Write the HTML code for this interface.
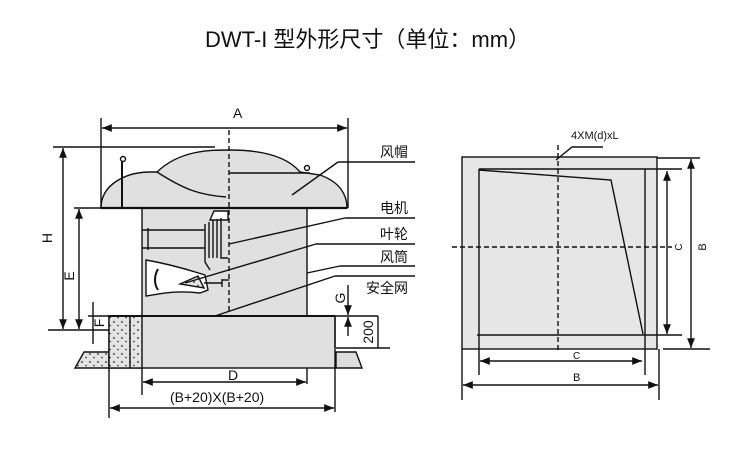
<!DOCTYPE html>
<html><head><meta charset="utf-8"><style>
html,body{margin:0;padding:0;background:#fff;width:750px;height:456px;overflow:hidden}
svg{display:block}
text{font-family:"Liberation Sans","Noto Sans CJK SC",sans-serif;fill:#111}
</style></head><body>
<svg width="750" height="456" viewBox="0 0 750 456" xmlns="http://www.w3.org/2000/svg">
<defs>
<marker id="ar" viewBox="0 0 10 10" refX="10" refY="5" markerWidth="7" markerHeight="7" orient="auto-start-reverse"><path d="M0,1 L10,5 L0,9 z" fill="#111"/></marker>
<pattern id="dots" width="8" height="8" patternUnits="userSpaceOnUse"><rect width="8" height="8" fill="#e4e4e4"/><circle cx="2" cy="2" r="0.9" fill="#222"/><circle cx="6" cy="5.5" r="0.8" fill="#222"/></pattern>
</defs>
<text x="205" y="47" font-size="22" font-family="Noto Sans CJK SC, sans-serif">DWT-I 型外形尺寸（单位：mm）</text>

<g stroke="#111" stroke-width="1.4" fill="none">
<path d="M84,352 L109,352 L109,368 L75,368 Z" fill="url(#dots)"/>
<path d="M336,352 L356,352 L362,368 L336,368 Z" fill="#ddd"/>
<rect x="109" y="316" width="226" height="52" fill="#e0e0e0"/>
<rect x="109" y="316" width="33" height="52" fill="url(#dots)"/>
<line x1="130" y1="316" x2="130" y2="368"/>
<rect x="142" y="208" width="165" height="108" fill="#e0e0e0"/>
<line x1="109" y1="316" x2="335" y2="316" stroke-width="2"/>
<path d="M101,208 C101,185 125,172 150,172 L157,172 C180,150 210,150 230,150 C270,150 290,160 300,172 L320,175 C340,182 347,195 347,208 Z" fill="#e0e0e0"/>
<path d="M157,172 C185,190 200,195 226,197"/>
<line x1="229" y1="173" x2="310" y2="173"/>
<line x1="101" y1="208" x2="347" y2="208" stroke-width="2.2"/>
<line x1="122" y1="160" x2="122" y2="208" stroke-width="2"/><circle cx="123" cy="159" r="2.5" fill="#fff"/>
<circle cx="307" cy="168" r="2.5" fill="#fff"/>
<path d="M210,220 L214,211 L228,211 L228,220 Z" fill="#fff"/>
<line x1="148" y1="228" x2="148" y2="250"/>
<line x1="142" y1="230" x2="205" y2="230"/><line x1="142" y1="248" x2="205" y2="248"/>
<path d="M205,224 L205,262 L210,270 M209,222 L209,258 M213,220 L213,258 M217,219 L217,258 M221,218 L221,258 L228,258"/>
<path d="M146,260 C175,265 195,272 205,275 L208,290 L200,293 C175,290 160,294 146,296 Z" fill="#fff"/>
<path d="M158,269 C154,276 154,284 158,290" stroke-width="2"/>
<path d="M180,284 L198,276 L204,288 Z" fill="url(#dots)"/>
<line x1="204" y1="283" x2="222" y2="283"/><line x1="222" y1="279" x2="222" y2="287"/><line x1="222" y1="280" x2="229" y2="280"/>
<line x1="229" y1="130" x2="229" y2="313" stroke-dasharray="5,3"/>
<line x1="292" y1="195" x2="338" y2="162"/><line x1="338" y1="162" x2="415" y2="162"/>
<line x1="229" y1="244" x2="345" y2="218"/><line x1="345" y1="218" x2="415" y2="218"/>
<line x1="185" y1="283" x2="316" y2="244"/><line x1="316" y1="244" x2="415" y2="244"/>
<line x1="307" y1="273" x2="340" y2="266"/><line x1="340" y1="266" x2="415" y2="266"/>
<line x1="215" y1="316" x2="335" y2="276"/><line x1="335" y1="276" x2="415" y2="276"/>
<line x1="101" y1="118" x2="101" y2="208"/><line x1="348" y1="118" x2="348" y2="208"/>
<line x1="102" y1="128" x2="347" y2="128" marker-start="url(#ar)" marker-end="url(#ar)"/>
<line x1="53" y1="147" x2="215" y2="147"/><line x1="48" y1="330" x2="109" y2="330"/>
<line x1="63" y1="148" x2="63" y2="329" marker-start="url(#ar)" marker-end="url(#ar)"/>
<line x1="74" y1="208" x2="142" y2="208"/>
<line x1="79" y1="209" x2="79" y2="329" marker-start="url(#ar)" marker-end="url(#ar)"/>
<line x1="93" y1="302" x2="93" y2="344"/>
<line x1="88" y1="316" x2="109" y2="316"/>
<line x1="335" y1="316" x2="378" y2="316"/><line x1="378" y1="316" x2="378" y2="348"/>
<line x1="336" y1="348" x2="390" y2="348"/><line x1="335" y1="316" x2="335" y2="348"/>
<line x1="348" y1="285" x2="348" y2="315" marker-end="url(#ar)"/>
<line x1="348" y1="336" x2="348" y2="317" marker-end="url(#ar)"/>
<line x1="142" y1="368" x2="142" y2="395"/><line x1="307" y1="368" x2="307" y2="384"/>
<line x1="143" y1="382" x2="306" y2="382" marker-start="url(#ar)" marker-end="url(#ar)"/>
<line x1="109" y1="368" x2="109" y2="418"/><line x1="335" y1="368" x2="335" y2="412"/>
<line x1="110" y1="408" x2="334" y2="408" marker-start="url(#ar)" marker-end="url(#ar)"/>

<rect x="462" y="157" width="195" height="192" fill="#e6e6e6"/>
<line x1="479" y1="169" x2="479" y2="375"/>
<line x1="479" y1="169" x2="682" y2="169"/>
<line x1="645" y1="169" x2="645" y2="375"/>
<line x1="477" y1="335" x2="682" y2="335"/>
<polyline points="479,170 611,180 643,334"/>
<line x1="558" y1="145" x2="558" y2="351" stroke-dasharray="5,3"/>
<line x1="452" y1="247" x2="672" y2="247" stroke-dasharray="5,3"/>
<line x1="657" y1="158" x2="700" y2="158"/><line x1="663" y1="349" x2="710" y2="349"/>
<line x1="691" y1="159" x2="691" y2="348" marker-start="url(#ar)" marker-end="url(#ar)"/>
<line x1="667" y1="171" x2="667" y2="334" marker-start="url(#ar)" marker-end="url(#ar)"/>
<line x1="480" y1="361" x2="642" y2="361" marker-start="url(#ar)" marker-end="url(#ar)"/>
<line x1="462" y1="349" x2="462" y2="400"/><line x1="659" y1="349" x2="659" y2="400"/>
<line x1="463" y1="385" x2="658" y2="385" marker-start="url(#ar)" marker-end="url(#ar)"/>
<polyline points="556,160 572,147 603,147"/>
</g>

<g font-size="14">
<text x="233" y="118">A</text>
<text x="380" y="157">风帽</text>
<text x="380" y="213">电机</text>
<text x="380" y="239">叶轮</text>
<text x="380" y="262">风筒</text>
<text x="366" y="293">安全网</text>
<text x="228" y="380">D</text>
<text x="170" y="402">(B+20)X(B+20)</text>
<text transform="translate(52,238) rotate(-90)" text-anchor="middle">H</text>
<text transform="translate(74,276) rotate(-90)" text-anchor="middle">E</text>
<text transform="translate(104,323) rotate(-90)" text-anchor="middle">F</text>
<text transform="translate(345,298) rotate(-90)" text-anchor="middle">G</text>
<text transform="translate(373,332) rotate(-90)" text-anchor="middle">200</text>
<text x="571" y="139" font-size="11">4XM(d)xL</text>
<text x="573" y="359" font-size="10">C</text>
<text x="573" y="381" font-size="11">B</text>
<text transform="translate(682,247) rotate(-90)" text-anchor="middle" font-size="10">C</text>
<text transform="translate(706,247) rotate(-90)" text-anchor="middle" font-size="11">B</text>
</g>
</svg>
</body></html>
